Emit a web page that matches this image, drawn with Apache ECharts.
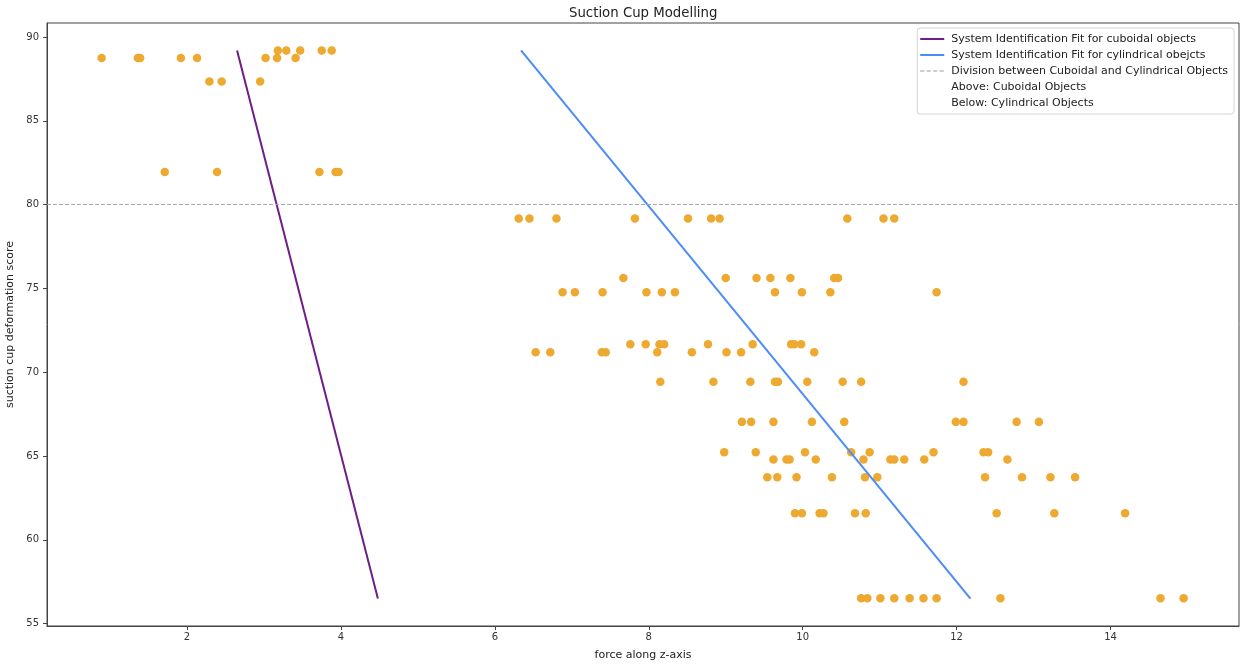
<!DOCTYPE html>
<html>
<head>
<meta charset="utf-8">
<script src="https://cdn.jsdelivr.net/npm/echarts@6/dist/echarts.min.js"></script>
<style>
html,body{margin:0;padding:0;background:#fff;}
#chart{width:1250px;height:667px;}
</style>
</head>
<body>
<div id="chart"></div>
<script>
// ---- data ----
const chartTitle = 'Suction Cup Modelling';
const xAxisName = 'force along z-axis';
const yAxisName = 'suction cup deformation score';
const xTickValues = [2, 4, 6, 8, 10, 12, 14];
const yTickValues = [55, 60, 65, 70, 75, 80, 85, 90];

// scatter: score levels and the forces measured at each level
const scoreLevels = [89.2, 88.75, 87.35, 81.95, 79.17, 75.63, 74.77, 71.67, 71.19, 69.43, 67.04, 65.23, 64.79, 63.74, 61.59, 56.52];
const forcesAtLevel = [
  [3.18, 3.29, 3.47, 3.75, 3.88],
  [0.89, 1.36, 1.39, 1.92, 2.13, 3.02, 3.17, 3.41],
  [2.29, 2.45, 2.95],
  [1.71, 2.39, 3.72, 3.93, 3.97],
  [6.31, 6.45, 6.80, 7.82, 8.51, 8.81, 8.92, 10.58, 11.05, 11.19],
  [7.67, 9.00, 9.40, 9.58, 9.84, 10.41, 10.46],
  [6.88, 7.04, 7.40, 7.97, 8.17, 8.34, 9.64, 9.99, 10.36, 11.74],
  [7.76, 7.96, 8.14, 8.20, 8.77, 9.35, 9.85, 9.89, 9.98],
  [6.53, 6.72, 7.39, 7.44, 8.11, 8.56, 9.01, 9.20, 10.15],
  [8.15, 8.84, 9.32, 9.64, 9.68, 10.06, 10.52, 10.76, 12.09],
  [9.21, 9.33, 9.62, 10.12, 10.54, 11.99, 12.09, 12.78, 13.07],
  [8.98, 9.39, 10.03, 10.63, 10.87, 11.70, 12.35, 12.41],
  [9.62, 9.79, 9.83, 10.17, 10.79, 11.14, 11.19, 11.32, 11.58, 12.66],
  [9.54, 9.67, 9.92, 10.38, 10.81, 10.97, 12.37, 12.85, 13.22, 13.54],
  [9.90, 9.99, 10.22, 10.27, 10.68, 10.82, 12.52, 13.27, 14.19],
  [10.76, 10.84, 11.01, 11.19, 11.39, 11.57, 11.74, 12.57, 14.65, 14.95]
];

// fitted lines
const cuboidFitForce = [2.65, 4.48];
const cuboidFitScore = [89.2, 56.5];
const cylinderFitForce = [6.34, 12.18];
const cylinderFitScore = [89.2, 56.5];
const divisionScore = 80;

const seriesNames = [
  'System Identification Fit for cuboidal objects',
  'System Identification Fit for cylindrical obejcts',
  'Division between Cuboidal and Cylindrical Objects',
  'Above: Cuboidal Objects',
  'Below: Cylindrical Objects'
];

// axis ranges (matplotlib 5% margins)
const xMin = 0.18, xMax = 15.67;
const yMin = 54.86, yMax = 90.84;

// ---- build ----
const scatterData = [];
scoreLevels.forEach((s, i) => forcesAtLevel[i].forEach(f => scatterData.push([f, s])));
const pairs = (xs, ys) => xs.map((x, i) => [x, ys[i]]);

const font = 'DejaVu Sans';
const axisColor = '#444';
const transparent = 'rgba(0,0,0,0)';
const purple = '#6e1d89';
const blue = '#4b8cf8';
const grey = '#a8a8a8';

// legend icons (kept within a 24x12 box)
const corners = 'M0,0h0.05v0.05h-0.05z M23.95,11.95h0.05v0.05h-0.05z ';
const solidIcon = 'path://' + corners + 'M0,5h24v2h-24z';
const dashIcon = 'path://' + corners + 'M0,5.5h4v1h-4z M6.5,5.5h4v1h-4z M13,5.5h4v1h-4z M19.5,5.5h4v1h-4z';

const chart = echarts.init(document.getElementById('chart'));

chart.setOption({
  animation: false,
  backgroundColor: '#fff',
  title: {
    text: chartTitle, left: 564, top: 2,
    textStyle: { fontFamily: font, fontSize: 13.3, fontWeight: 'normal', color: '#222' }
  },
  legend: {
    orient: 'vertical', right: 16, top: 28,
    data: [
      { name: seriesNames[0], icon: solidIcon, itemStyle: { color: purple } },
      { name: seriesNames[1], icon: solidIcon, itemStyle: { color: blue } },
      { name: seriesNames[2], icon: dashIcon, itemStyle: { color: '#999' } },
      { name: seriesNames[3], icon: 'rect', itemStyle: { color: transparent } },
      { name: seriesNames[4], icon: 'rect', itemStyle: { color: transparent } }
    ],
    itemWidth: 24, itemHeight: 12, itemGap: 4,
    padding: [5, 6, 5, 3],
    borderColor: '#d4d4d4', borderWidth: 1, borderRadius: 3,
    backgroundColor: 'rgba(255,255,255,0.9)',
    selectedMode: false,
    textStyle: { fontFamily: font, fontSize: 11, color: '#222', padding: [0, 0, 0, 2] }
  },
  grid: { left: 47, right: 11, top: 23, bottom: 41, outerBoundsMode: 'none', containLabel: false, show: true, borderColor: axisColor, borderWidth: 1, backgroundColor: '#fff' },
  xAxis: {
    type: 'value', min: xMin, max: xMax,
    name: xAxisName, nameLocation: 'middle', nameGap: 24,
    nameTextStyle: { fontFamily: font, fontSize: 11, color: '#222' },
    axisLine: { show: true, lineStyle: { color: axisColor } },
    axisTick: { show: true, length: 4, lineStyle: { color: axisColor }, customValues: xTickValues },
    axisLabel: { fontFamily: font, fontSize: 10, color: '#333', margin: 6, customValues: xTickValues },
    splitLine: { show: false }
  },
  yAxis: {
    type: 'value', min: yMin, max: yMax,
    name: yAxisName, nameLocation: 'middle', nameGap: 23,
    nameTextStyle: { fontFamily: font, fontSize: 11, color: '#222' },
    axisLine: { show: true, lineStyle: { color: axisColor } },
    axisTick: { show: true, length: 4, lineStyle: { color: axisColor }, customValues: yTickValues },
    axisLabel: { fontFamily: font, fontSize: 10, color: '#333', margin: 8, customValues: yTickValues },
    splitLine: { show: false }
  },
  series: [
    {
      type: 'scatter', name: 'data', data: scatterData,
      symbolSize: 8.5, itemStyle: { color: '#eea930', opacity: 1 }, z: 2
    },
    {
      type: 'line', name: seriesNames[0], data: pairs(cuboidFitForce, cuboidFitScore),
      symbol: 'none', lineStyle: { color: purple, width: 2 }, itemStyle: { color: purple }, z: 3
    },
    {
      type: 'line', name: seriesNames[1], data: pairs(cylinderFitForce, cylinderFitScore),
      symbol: 'none', lineStyle: { color: blue, width: 2 }, itemStyle: { color: blue }, z: 3
    },
    {
      type: 'line', name: seriesNames[2], data: [],
      symbol: 'none', lineStyle: { color: grey, width: 1, type: [4, 2] }, itemStyle: { color: grey },
      markLine: {
        silent: true, symbol: 'none', label: { show: false },
        lineStyle: { color: grey, width: 1, type: [4, 2] },
        data: [{ yAxis: divisionScore }]
      }, z: 1
    },
    {
      type: 'line', name: seriesNames[3], data: [], symbol: 'none',
      lineStyle: { color: transparent }, itemStyle: { color: transparent }
    },
    {
      type: 'line', name: seriesNames[4], data: [], symbol: 'none',
      lineStyle: { color: transparent }, itemStyle: { color: transparent }
    }
  ]
});
</script>
</body>
</html>
